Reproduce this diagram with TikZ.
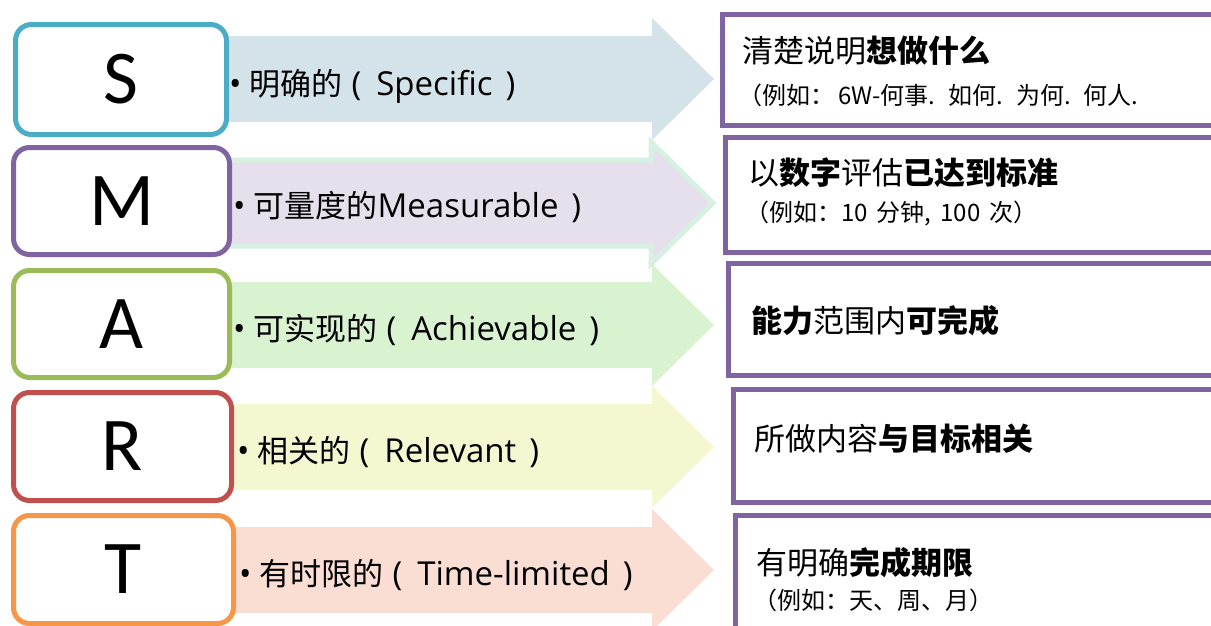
\documentclass[tikz,border=0pt]{standalone}
\usepackage{fontspec}
\newfontfamily\cjkf{Noto Sans CJK SC}
\newfontfamily\latf{Open Sans}
\newfontfamily\bigf{Carlito}
\newcommand\mycj{\cjkf\fontsize{31}{36}\selectfont}
\newcommand\myla{\latf\fontsize{33}{38}\selectfont}
\newcommand\bigtxt{\cjkf\fontsize{31}{36}\selectfont}
\newcommand\smalltxt{\cjkf\fontsize{24}{28}\selectfont}
\newcommand\gp{\hspace{9pt}}
\newcommand\gq{\hspace{13pt}}
\definecolor{cS}{HTML}{4BACC6}
\definecolor{cM}{HTML}{8064A2}
\definecolor{cA}{HTML}{9BBB59}
\definecolor{cR}{HTML}{C0504D}
\definecolor{cT}{HTML}{F79646}
\definecolor{fS}{RGB}{212,227,234}
\definecolor{fM}{RGB}{230,224,236}
\definecolor{oM}{RGB}{214,240,226}
\definecolor{fA}{RGB}{217,243,209}
\definecolor{fR}{RGB}{244,247,208}
\definecolor{fT}{RGB}{251,222,211}
\tikzset{
  pics/bigarrow/.style={code={
    \path[pic actions] (-494,-43) -- (-62,-43) -- (-62,-61) -- (0,0) -- (-62,61) -- (-62,43) -- (-494,43) -- cycle;}},
  letterbox/.style={draw=#1, line width=5pt, rounded corners=16pt, fill=white,
    inner sep=0pt, font=\bigf\fontsize{76}{80}\selectfont},
  rbox/.style={draw=cM, line width=5pt, fill=white, anchor=north west, inner sep=0pt, outer sep=0pt},
  lbl/.style={anchor=base west, inner sep=0pt},
  rtxt/.style={anchor=base west, inner sep=0pt}
}
\begin{document}
\begin{tikzpicture}[x=1pt,y=-1pt]
\useasboundingbox (0,0) rectangle (1211,625);
\clip (0,0) rectangle (1211,625);
\fill[white] (0,0) rectangle (1211,625);
% arrows
\pic[fill=fS] at (714,79) {bigarrow};
\pic[fill=fM, draw=oM, line width=5pt] at (713,203) {bigarrow};
\pic[fill=fA] at (714,325) {bigarrow};
\pic[fill=fR] at (714,447) {bigarrow};
\pic[fill=fT] at (714,570) {bigarrow};
% letter boxes
\node[letterbox=cS, minimum width=211pt, minimum height=110pt] (S) at (121,79.5) {S};
\node[letterbox=cM, minimum width=216pt, minimum height=107pt] (M) at (121.5,201) {M};
\node[letterbox=cA, minimum width=216pt, minimum height=107pt] (A) at (121.5,324) {A};
\node[letterbox=cR, minimum width=218pt, minimum height=108pt] (R) at (122.5,446.5) {R};
\node[letterbox=cT, minimum width=220pt, minimum height=108pt] (T) at (123.5,569.5) {T};
% labels
\node[lbl] (lS) at (229,95) {\myla•\hspace{8pt}\mycj 明确的\hspace{9pt}\myla(\hspace{15pt}Specific\hspace{13pt})};
\node[lbl] (lM) at (233,217) {\myla•\hspace{8pt}\mycj 可量度的\myla Measurable\hspace{13pt})};
\node[lbl] (lA) at (233,340) {\myla•\hspace{8pt}\mycj 可实现的\hspace{9pt}\myla(\hspace{15pt}Achievable\hspace{13pt})};
\node[lbl] (lR) at (237,462) {\myla•\hspace{8pt}\mycj 相关的\hspace{9pt}\myla(\hspace{15pt}Relevant\hspace{13pt})};
\node[lbl] (lT) at (239,585) {\myla•\hspace{8pt}\mycj 有时限的\hspace{9pt}\myla(\hspace{15pt}Time-limited\hspace{13pt})};
% right boxes
\node[rbox, minimum width=520pt, minimum height=111pt] (b1) at (722.5,14.5) {};
\node[rbox, minimum width=520pt, minimum height=115pt] (b2) at (725.5,137.5) {};
\node[rbox, minimum width=520pt, minimum height=112pt] (b3) at (728.5,263.5) {};
\node[rbox, minimum width=520pt, minimum height=113pt] (b4) at (733.5,389.5) {};
\node[rbox, minimum width=520pt, minimum height=130pt] (b5) at (735.5,515.5) {};
% right texts
\node[rtxt] (t1a) at (742,62) {\bigtxt 清楚说明{\bfseries 想做什么}};
\node[rtxt] (t1b) at (738,104) {\smalltxt （例如：\hspace{4pt}6W-何事.\gq 如何.\gq 为何.\gq 何人.};
\node[rtxt] (t2a) at (748,184) {\bigtxt 以{\bfseries 数字}评估{\bfseries 已达到标准}};
\node[rtxt] (t2b) at (745,221) {\smalltxt （例如：10\gp 分钟,\gp 100\gp 次）};
\node[rtxt] (t3a) at (751,332) {\bigtxt {\bfseries 能力}范围内{\bfseries 可完成}};
\node[rtxt] (t4a) at (754,450) {\bigtxt 所做内容{\bfseries 与目标相关}};
\node[rtxt] (t5a) at (756,574) {\bigtxt 有明确{\bfseries 完成期限}};
\node[rtxt] (t5b) at (753,609) {\smalltxt （例如：天、周、月）};
\end{tikzpicture}
\end{document}
